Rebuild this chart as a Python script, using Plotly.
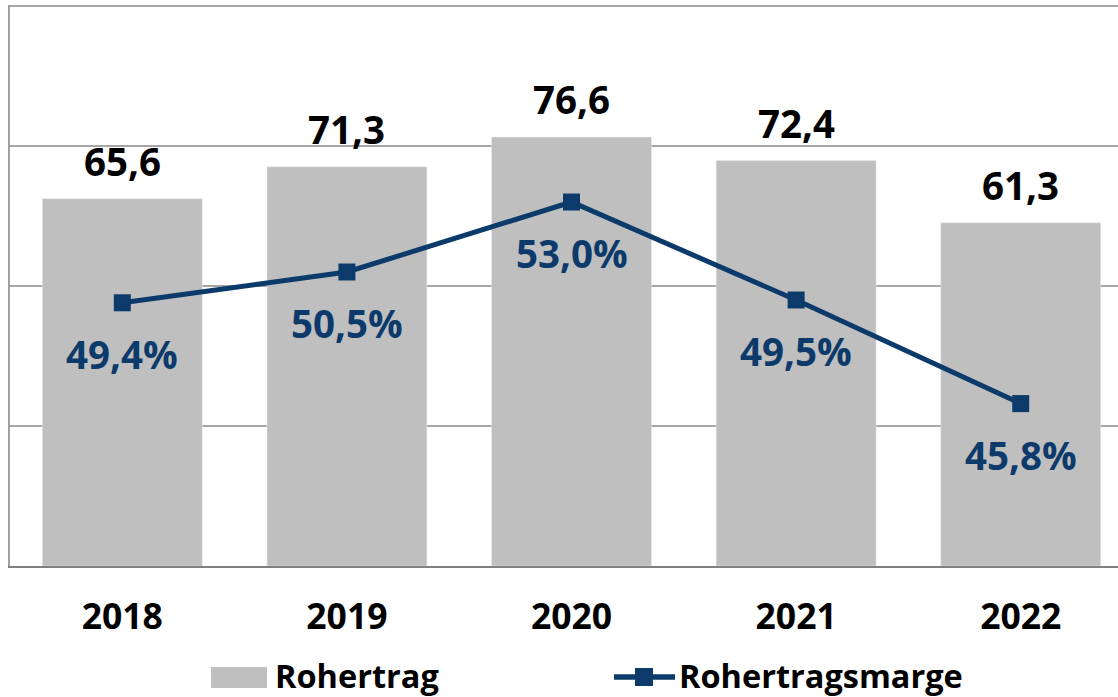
import plotly.graph_objects as go

years = ["2018", "2019", "2020", "2021", "2022"]
rohertrag = [65.6, 71.3, 76.6, 72.4, 61.3]
marge = [49.4, 50.5, 53.0, 49.5, 45.8]
bar_labels = ["65,6", "71,3", "76,6", "72,4", "61,3"]
marge_labels = ["49,4%", "50,5%", "53,0%", "49,5%", "45,8%"]

GRAY = "#BFBFBF"
NAVY = "#0B3A6B"
FONT = "Open Sans"

W, H = 1118, 697
ML, MR, MT, MB = 10, 0, 5, 131
PW = W - ML - MR
PH = H - MT - MB

fig = go.Figure()
fig.add_trace(go.Bar(x=years, y=rohertrag, marker_color=GRAY, width=0.712,
                     name="Rohertrag", showlegend=False, hoverinfo="skip"))
fig.add_trace(go.Scatter(x=years, y=marge, yaxis="y2", mode="lines+markers",
                         line=dict(color=NAVY, width=5),
                         marker=dict(symbol="square", size=17, color=NAVY),
                         name="Rohertragsmarge", showlegend=False, hoverinfo="skip"))

ann = []
for i, (v, t) in enumerate(zip(rohertrag, bar_labels)):
    ann.append(dict(x=i, y=v, xref="x", yref="y", text=t, showarrow=False,
                    yanchor="middle", yshift=38,
                    font=dict(family=FONT, size=38.5, color="black", weight="bold")))
for i, (v, t) in enumerate(zip(marge, marge_labels)):
    ann.append(dict(x=i, y=v, xref="x", yref="y2", text=t, showarrow=False,
                    yanchor="middle", yshift=-51,
                    font=dict(family=FONT, size=38.5, color=NAVY, weight="bold")))

def px2paper_x(px):
    return (px - ML) / PW

def px2paper_y(py):
    return (H - MB - py) / PH

shapes = [
    dict(type="rect", xref="paper", yref="paper",
         x0=px2paper_x(211), x1=px2paper_x(267), y0=px2paper_y(688), y1=px2paper_y(667),
         fillcolor=GRAY, line=dict(width=0)),
    dict(type="line", xref="paper", yref="paper",
         x0=px2paper_x(614), x1=px2paper_x(675), y0=px2paper_y(677), y1=px2paper_y(677),
         line=dict(color=NAVY, width=5.5)),
    dict(type="rect", xref="paper", yref="paper",
         x0=px2paper_x(635), x1=px2paper_x(653), y0=px2paper_y(686), y1=px2paper_y(668),
         fillcolor=NAVY, line=dict(width=0)),
]
ann.append(dict(xref="paper", yref="paper", x=px2paper_x(274), y=px2paper_y(675.5),
                text="Rohertrag", showarrow=False, xanchor="left", yanchor="middle",
                borderpad=0,
                font=dict(family=FONT, size=32.5, color="black", weight="bold")))
ann.append(dict(xref="paper", yref="paper", x=px2paper_x(678), y=px2paper_y(675.5),
                text="Rohertragsmarge", showarrow=False, xanchor="left", yanchor="middle",
                borderpad=0,
                font=dict(family=FONT, size=32.5, color="black", weight="bold")))

fig.update_layout(
    width=W, height=H,
    margin=dict(l=ML, r=MR, t=MT, b=MB),
    paper_bgcolor="white", plot_bgcolor="white",
    showlegend=False,
    annotations=ann, shapes=shapes,
    xaxis=dict(type="category", range=[-0.5, 4.433], showgrid=False, showline=True,
               linecolor="#808080", linewidth=1.5,
               tickfont=dict(family=FONT, size=35.5, color="black", weight="bold"),
               ticks="", ticklabelstandoff=19),
    yaxis=dict(range=[0, 100.18], tickvals=[0, 25, 50, 75, 100], showgrid=True,
               gridcolor="#A6A6A6", gridwidth=1.5,
               showline=True, linecolor="#A0A0A0", linewidth=1.5,
               showticklabels=False, zeroline=False, ticks=""),
    yaxis2=dict(range=[40, 60.036], overlaying="y", side="right", showgrid=False,
                showticklabels=False, zeroline=False, showline=False),
)

fig.write_html("out.html", config={"displayModeBar": False},
               post_script="document.body.style.margin='0';document.body.style.overflow='hidden';")
